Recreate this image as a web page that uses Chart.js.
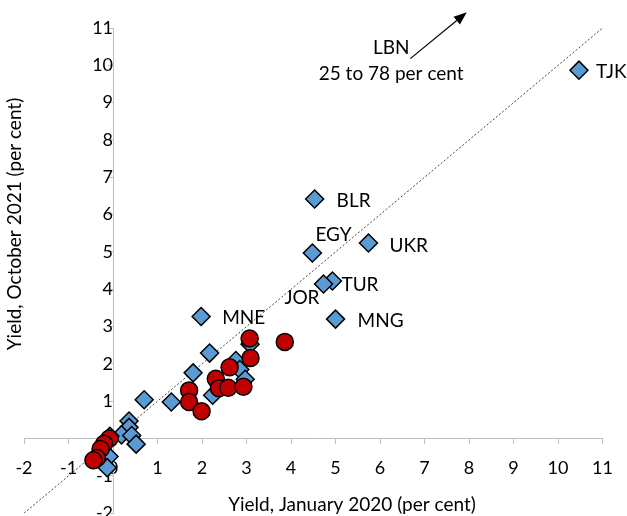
<!DOCTYPE html>
<html>
<head>
<meta charset="utf-8">
<script src="https://cdn.jsdelivr.net/npm/chart.js@4.4.1/dist/chart.umd.min.js"></script>
<style>
  html, body { margin: 0; padding: 0; background: #fff; overflow: hidden; }
  #wrap { position: relative; width: 627px; height: 536px; }
</style>
</head>
<body>
<div id="wrap"><canvas id="chart" width="627" height="536"></canvas></div>
<script>
// Tick values on both axes
const xTickValues = [-2, -1, 0, 1, 2, 3, 4, 5, 6, 7, 8, 9, 10, 11];
const yTickValues = [-2, -1, 0, 1, 2, 3, 4, 5, 6, 7, 8, 9, 10, 11];

// Blue diamonds (x = Jan 2020 yield, y = Oct 2021 yield)
const blueNames = ["TJK", "BLR", "EGY", "UKR", "TUR", "JOR", "MNG", "MNE",
  "", "", "", "", "", "", "", "", "", "", "", "", "", "", "", "", ""];
const blueX = [10.47, 4.53, 4.48, 5.74, 4.93, 4.73, 5.00, 1.98,
  2.17, 1.80, 0.70, 1.31, 2.24, 2.76, 2.85, 2.97, 3.08, 0.36, 0.36, 0.19, 0.42, 0.52, -0.07, -0.09, -0.13];
const blueY = [9.87, 6.42, 4.97, 5.24, 4.22, 4.14, 3.20, 3.27,
  2.29, 1.76, 1.04, 0.98, 1.16, 2.09, 1.85, 1.59, 2.53, 0.47, 0.30, 0.10, 0.08, -0.15, 0.06, -0.48, -0.78];

// Red circles
const redX = [3.07, 3.86, 3.09, 2.62, 2.31, 2.38, 2.59, 2.93, 1.71, 1.71, 1.99, -0.08, -0.20, -0.28, -0.36, -0.44];
const redY = [2.68, 2.59, 2.16, 1.91, 1.60, 1.35, 1.36, 1.39, 1.29, 0.98, 0.73, 0.00, -0.14, -0.28, -0.52, -0.58];

// 45-degree reference line
const diagX = [-2, 11];
const diagY = [-2, 11];

// LBN off-scale annotation
const lbnLines = ["LBN", "25 to 78 per cent"];
const lbnTextX = 6.25;
const lbnTextY = [10.48, 9.78];
const arrowFrom = [6.68, 10.18];
const arrowTo = [7.95, 11.42];

const xTitle = "Yield, January 2020 (per cent)";
const yTitle = "Yield, October 2021 (per cent)";

const FONT = "Lato, 'Open Sans', sans-serif";
const TEXT = "#000";
const AXIS = "#BFBFBF";

// where each country label sits relative to its marker (px)
const labelOffsets = {
  TJK: { dx: 17, dy: 2 },
  BLR: { dx: 22, dy: 2 },
  EGY: { dx: 3, dy: -18 },
  UKR: { dx: 21, dy: 3 },
  TUR: { dx: 9, dy: 4 },
  JOR: { dx: -4, dy: 14, align: "right" },
  MNG: { dx: 22, dy: 2 },
  MNE: { dx: 21, dy: 1 },
};

function toPoints(xs, ys) {
  return xs.map((x, i) => ({ x, y: ys[i] }));
}

const overlay = {
  id: "overlay",
  afterDatasetsDraw(chart) {
    const { ctx } = chart;
    const x = chart.scales.x;
    const y = chart.scales.y;
    ctx.save();
    ctx.fillStyle = TEXT;
    ctx.font = `19px ${FONT}`;
    ctx.textBaseline = "middle";

    blueNames.forEach((name, i) => {
      if (!name) return;
      const off = labelOffsets[name];
      ctx.textAlign = off.align || "left";
      ctx.fillText(name, x.getPixelForValue(blueX[i]) + off.dx, y.getPixelForValue(blueY[i]) + off.dy);
    });

    // LBN text
    ctx.textAlign = "center";
    lbnLines.forEach((t, i) => {
      ctx.fillText(t, x.getPixelForValue(lbnTextX), y.getPixelForValue(lbnTextY[i]));
    });

    // arrow
    const x0 = x.getPixelForValue(arrowFrom[0]);
    const y0 = y.getPixelForValue(arrowFrom[1]);
    const x1 = x.getPixelForValue(arrowTo[0]);
    const y1 = y.getPixelForValue(arrowTo[1]);
    const ang = Math.atan2(y1 - y0, x1 - x0);
    const head = 13;
    const bx = x1 - head * Math.cos(ang);
    const by = y1 - head * Math.sin(ang);
    ctx.strokeStyle = "#000";
    ctx.lineWidth = 1.2;
    ctx.beginPath();
    ctx.moveTo(x0, y0);
    ctx.lineTo(bx, by);
    ctx.stroke();
    ctx.beginPath();
    ctx.moveTo(x1, y1);
    ctx.lineTo(bx + 5 * Math.sin(ang), by - 5 * Math.cos(ang));
    ctx.lineTo(bx - 5 * Math.sin(ang), by + 5 * Math.cos(ang));
    ctx.closePath();
    ctx.fill();

    // axis titles
    ctx.textAlign = "center";
    ctx.fillText(xTitle, 352, 505);
    ctx.translate(15, 224);
    ctx.rotate(-Math.PI / 2);
    ctx.fillText(yTitle, 0, 0);
    ctx.restore();
  },
};

const tickFont = { family: FONT, size: 18 };

new Chart(document.getElementById("chart"), {
  type: "scatter",
  data: {
    datasets: [
      {
        label: "red",
        data: toPoints(redX, redY),
        pointStyle: "circle",
        pointRadius: 8.5,
        backgroundColor: "#C00000",
        borderColor: "#000",
        borderWidth: 1.5,
        order: 1,
      },
      {
        label: "blue",
        data: toPoints(blueX, blueY),
        pointStyle: "rectRot",
        pointRadius: 9,
        backgroundColor: "#5B9BD5",
        borderColor: "#000",
        borderWidth: 1.5,
        order: 2,
      },
      {
        label: "45 degree",
        type: "line",
        data: toPoints(diagX, diagY),
        borderColor: "#444",
        borderWidth: 1,
        borderDash: [2, 2],
        pointRadius: 0,
        fill: false,
        order: 3,
      },
    ],
  },
  options: {
    responsive: false,
    animation: false,
    events: [],
    layout: { padding: { left: 24, right: 24, top: 28, bottom: 0 } },
    plugins: { legend: { display: false }, tooltip: { enabled: false } },
    scales: {
      x: {
        type: "linear",
        min: -2,
        max: 11,
        position: { y: 0 },
        afterBuildTicks: (s) => { s.ticks = xTickValues.map((v) => ({ value: v })); },
        ticks: { font: tickFont, color: TEXT, padding: 14 },
        grid: { drawOnChartArea: false, tickLength: 5, color: AXIS },
        border: { color: AXIS, width: 1 },
      },
      y: {
        type: "linear",
        min: -2,
        max: 11,
        position: { x: 0 },
        afterBuildTicks: (s) => { s.ticks = yTickValues.map((v) => ({ value: v })); },
        ticks: { font: tickFont, color: TEXT, padding: 12 },
        grid: { drawOnChartArea: false, tickLength: 5, color: AXIS },
        border: { color: AXIS, width: 1 },
      },
    },
  },
  plugins: [overlay],
});
</script>
</body>
</html>
